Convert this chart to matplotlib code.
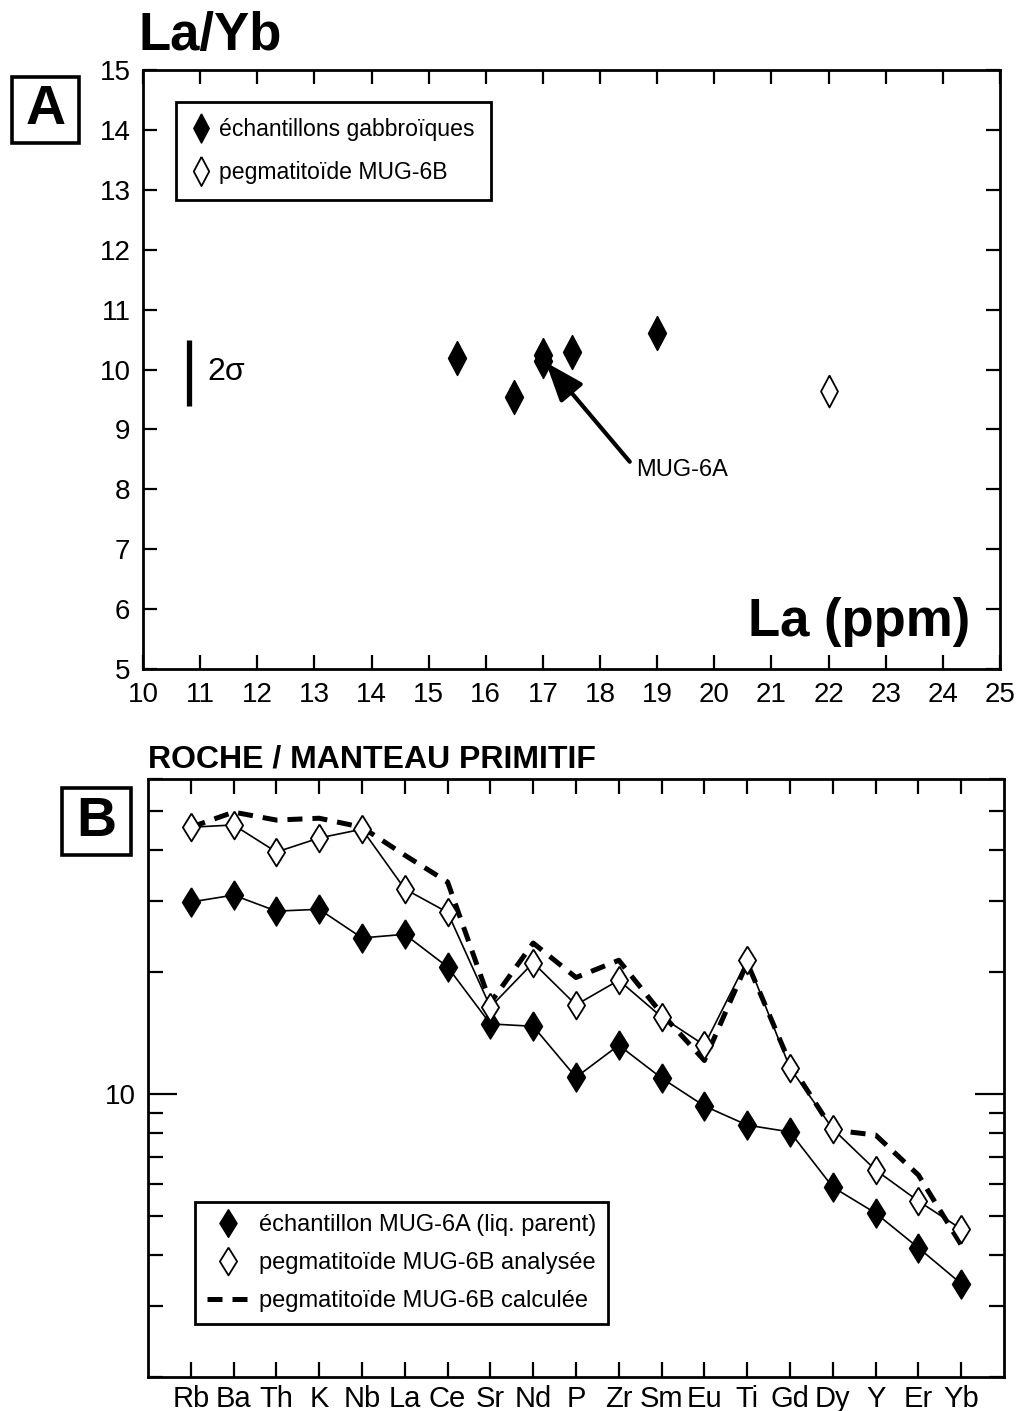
import matplotlib
matplotlib.use("Agg")
import matplotlib.pyplot as plt
from matplotlib.lines import Line2D
from matplotlib.patches import Rectangle
from matplotlib.ticker import FixedLocator, NullFormatter, LogLocator

plt.rcParams['font.family'] = ['Liberation Sans', 'DejaVu Sans']

# --- panel A data (La ppm vs La/Yb) ---
la_gabbro = [15.5, 16.5, 17.0, 17.0, 17.5, 19.0]
layb_gabbro = [10.19, 9.54, 10.24, 10.15, 10.29, 10.61]
la_pegma = [22.0]
layb_pegma = [9.64]

# --- panel B data (rock / primitive mantle) ---
elements = ['Rb', 'Ba', 'Th', 'K', 'Nb', 'La', 'Ce', 'Sr', 'Nd', 'P',
            'Zr', 'Sm', 'Eu', 'Ti', 'Gd', 'Dy', 'Y', 'Er', 'Yb']
mug6a = [29.8, 31.0, 28.3, 28.6, 24.3, 24.8, 20.6, 14.9, 14.7, 11.0,
         13.2, 10.95, 9.34, 8.38, 8.06, 5.89, 5.08, 4.17, 3.40]
mug6b_ana = [45.6, 46.2, 39.6, 42.9, 45.1, 32.1, 28.1, 16.4, 21.1, 16.6,
             19.1, 15.5, 13.2, 21.4, 11.6, 8.2, 6.49, 5.44, 4.64]
mug6b_calc = [45.6, 49.7, 47.5, 48.0, 45.6, 38.9, 33.4, 16.8, 23.6, 19.4,
              21.4, 15.8, 12.1, 21.1, 11.9, 8.15, 7.92, 6.31, 4.24]

W, H = 1016, 1411
fig = plt.figure(figsize=(W / 100, H / 100), dpi=100)


def diamond(r):
    return [(0, 1), (r, 0), (0, -1), (-r, 0), (0, 1)]


def frac(x0, y0, x1, y1):
    # pixel box -> figure fraction rect
    return [x0 / W, 1 - y1 / H, (x1 - x0) / W, (y1 - y0) / H]


# ================= panel A =================
ax1 = fig.add_axes(frac(143, 70, 1000, 669))
dA = diamond(0.53)
ax1.plot(la_gabbro, layb_gabbro, ls='none', marker=dA, ms=24.5,
         mfc='black', mec='black', mew=1, zorder=3)
ax1.plot(la_pegma, layb_pegma, ls='none', marker=dA, ms=23,
         mfc='white', mec='black', mew=1.3, zorder=3)
ax1.set_xlim(10, 25)
ax1.set_ylim(5, 15)
ax1.set_xticks(range(10, 26))
ax1.set_yticks(range(5, 16))
ax1.tick_params(direction='in', length=10, width=1.6, top=True, right=True,
                labelsize=20, pad=9)
for s in ax1.spines.values():
    s.set_linewidth(2)

# 2 sigma bar
ax1.plot([10.8, 10.8], [9.39, 10.49], color='black', lw=3.8, solid_capstyle='butt')
ax1.text(11.12, 9.96, '2σ', fontsize=23, ha='left', va='center')

# MUG-6A arrow
ax1.annotate('', xy=(17.05, 10.12), xytext=(18.52, 8.46),
             arrowprops=dict(arrowstyle='-|>,head_length=1.2,head_width=0.45',
                             mutation_scale=20, lw=3, color='black',
                             shrinkA=0, shrinkB=0))
ax1.text(18.63, 8.32, 'MUG-6A', fontsize=17, ha='left', va='center')

ax1.text(0.965, 0.055, 'La (ppm)', transform=ax1.transAxes, fontsize=38,
         weight='bold', ha='right', va='baseline')
fig.text(138 / W, 1 - 50 / H, 'La/Yb', fontsize=38, weight='bold', va='baseline')

hA = [Line2D([], [], ls='none', marker=dA, ms=21, mfc='black', mec='black'),
      Line2D([], [], ls='none', marker=dA, ms=21, mfc='white', mec='black', mew=1.3)]
legA = ax1.legend(hA, ['échantillons gabbroïques', 'pegmatitoïde MUG-6B'],
                  loc='upper left', bbox_to_anchor=(0.0385, 0.9466),
                  borderaxespad=0, fancybox=False, framealpha=1,
                  edgecolor='black', fontsize=16.6, handlelength=0.8,
                  handletextpad=0.4, labelspacing=0.9, borderpad=0.68)
legA.get_frame().set_linewidth(2)

# ================= panel B =================
ax2 = fig.add_axes(frac(148, 779, 1004, 1377))
x = list(range(1, len(elements) + 1))
dB = diamond(0.62)
ax2.plot(x, mug6b_calc, color='black', lw=3.6, ls=(0, (3, 2)), zorder=2)
ax2.plot(x, mug6a, color='black', lw=1.2, marker=dB, ms=21,
         mfc='black', mec='black', zorder=3)
ax2.plot(x, mug6b_ana, color='black', lw=1.2, marker=dB, ms=20,
         mfc='white', mec='black', mew=1.3, zorder=4)
ax2.set_yscale('log')
ax2.set_ylim(2, 60)
ax2.set_xlim(0, 20)
ax2.set_xticks(x)
ax2.set_xticklabels(elements)
ax2.yaxis.set_major_locator(FixedLocator([10]))
ax2.yaxis.set_minor_locator(LogLocator(base=10, subs=range(2, 10)))
ax2.yaxis.set_minor_formatter(NullFormatter())
ax2.set_yticklabels(['10'])
ax2.tick_params(axis='x', direction='in', length=11, width=1.6, top=True,
                labelsize=21, pad=6)
ax2.tick_params(axis='y', which='major', direction='in', length=21, width=1.6,
                right=True, labelsize=20, pad=9)
ax2.tick_params(axis='y', which='minor', direction='in', length=11, width=1.6,
                right=True)
for s in ax2.spines.values():
    s.set_linewidth(2)

hB = [Line2D([], [], ls='none', marker=dB, ms=20, mfc='black', mec='black'),
      Line2D([], [], ls='none', marker=dB, ms=20, mfc='white', mec='black', mew=1.3),
      Line2D([], [], color='black', lw=3.6, ls=(0, (3, 2)))]
legB = ax2.legend(hB, ['échantillon MUG-6A (liq. parent)',
                       'pegmatitoïde MUG-6B analysée',
                       'pegmatitoïde MUG-6B calculée'],
                  loc='upper left', bbox_to_anchor=(0.0549, 0.2926),
                  borderaxespad=0, fancybox=False, framealpha=1,
                  edgecolor='black', fontsize=17, handlelength=1.8,
                  handletextpad=0.4, labelspacing=0.68, borderpad=0.5)
legB.get_frame().set_linewidth(2)

fig.text(148 / W, 1 - 768 / H, 'ROCHE / MANTEAU PRIMITIF', fontsize=23,
         weight='bold', va='baseline')

# panel letters in boxes
for (bx0, by0, bx1, by1), letter in [((12, 77, 79, 143), 'A'),
                                     ((62, 788, 131, 855), 'B')]:
    r = frac(bx0, by0, bx1, by1)
    fig.add_artist(Rectangle((r[0], r[1]), r[2], r[3], transform=fig.transFigure,
                             fill=False, lw=2.6, ec='black'))
    fig.text(r[0] + r[2] / 2, r[1] + r[3] / 2, letter, fontsize=40,
             weight='bold', ha='center', va='center')

fig.savefig('out.png', dpi=100)
